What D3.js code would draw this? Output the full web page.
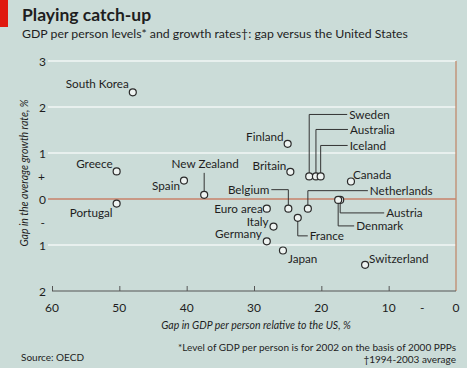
<!DOCTYPE html>
<html><head><meta charset="utf-8">
<script src="https://cdn.jsdelivr.net/npm/d3@7"></script>
<style>
html,body{margin:0;padding:0;background:#cbdcd8;}
svg{display:block;}
text{font-family:Lato,"Open Sans",sans-serif;fill:#1e1e1e;}
</style></head>
<body>
<svg id="c" width="467" height="368"></svg>
<script>
// ---- data ----
const countries = ["South Korea","Greece","Spain","New Zealand","Portugal","Finland","Britain",
  "Sweden","Australia","Iceland","Canada","Belgium","Netherlands","Euro area","Austria","Denmark",
  "France","Italy","Germany","Japan","Switzerland"];
const gdpGap    = [48.0,50.4,40.4,37.4,50.4,25.0,24.6,21.8,20.8,20.1,15.6,24.9,22.0,28.1,17.2,17.5,23.5,27.1,28.1,25.7,13.5];
const growthGap = [2.32,0.60,0.40,0.09,-0.10,1.20,0.59,0.49,0.49,0.49,0.38,-0.21,-0.21,-0.21,-0.02,-0.02,-0.41,-0.60,-0.92,-1.12,-1.43];
const yTickValues = [3,2,1,0.5,0,-0.5,-1,-2];
const yTickLabels = ["3","2","1","+","0","-","1","2"];
const xTickValues = [60,50,40,30,20,10,5,0];
const xTickLabels = ["60","50","40","30","20","10","-","0"];
const gridValues = [3,2,1,-1];

// ---- label layout (pixel offsets from point) ----
const layout = {
  "South Korea":{dx:-4,dy:-4,a:"end"},
  "Greece":{dx:-4,dy:-3,a:"end"},
  "Spain":{dx:-4,dy:9,a:"end"},
  "Portugal":{dx:-4,dy:13,a:"end"},
  "Finland":{dx:-4,dy:-3,a:"end"},
  "Britain":{dx:-4,dy:-2,a:"end"},
  "Canada":{dx:2,dy:-3,a:"start"},
  "Euro area":{dx:-4,dy:4,a:"end"},
  "Italy":{dx:-5,dy:-1,a:"end"},
  "Germany":{dx:-5,dy:-3,a:"end"},
  "Japan":{dx:5,dy:12,a:"start"},
  "Switzerland":{dx:4,dy:-2,a:"start"},
  "New Zealand":{leader:[-22,0],dx:1,dy:-27,a:"middle"},
  "Sweden":{leader:[-62,38]},
  "Australia":{leader:[-47,32]},
  "Iceland":{leader:[-31,27]},
  "Belgium":{leader:[-19,-17]},
  "Netherlands":{leader:[-18,60]},
  "Austria":{leader:[13,44]},
  "Denmark":{leader:[26,16]},
  "France":{leader:[18,10]}
};

const svg = d3.select("#c");
const x = d3.scaleLinear().domain([60,0]).range([52,456]);
const y = d3.scaleLinear().domain([3,-2]).range([61,291]);

// red tab
svg.append("rect").attr("x",0).attr("y",0).attr("width",8).attr("height",27).attr("fill","#e0190f");
svg.append("text").attr("x",22).attr("y",21).attr("font-size",17.5).attr("font-weight",700).text("Playing catch-up");
svg.append("text").attr("x",22).attr("y",38).attr("font-size",12.3).text("GDP per person levels* and growth rates\u2020: gap versus the United States");

// gridlines
svg.append("g").selectAll("line").data(gridValues).join("line")
  .attr("x1",48).attr("x2",456).attr("y1",d=>y(d)).attr("y2",d=>y(d))
  .attr("stroke","#f2f7f6").attr("stroke-width",1.4);
// zero line
svg.append("line").attr("x1",48).attr("x2",456).attr("y1",y(0)).attr("y2",y(0))
  .attr("stroke","#c9826a").attr("stroke-width",1.3);
// right border
svg.append("line").attr("x1",x(0)).attr("x2",x(0)).attr("y1",y(3)).attr("y2",y(-2))
  .attr("stroke","#c08a6e").attr("stroke-width",1.3);

// bottom axis
const xAxis = d3.axisBottom(x).tickValues(xTickValues.filter(v=>v>=10)).tickSize(-5).tickFormat("");
const gx = svg.append("g").attr("transform",`translate(0,${y(-2)})`).call(xAxis);
gx.select(".domain").attr("stroke","#555").attr("d",`M${x(60)},0H${x(0)}`);
gx.selectAll(".tick line").attr("stroke","#555");
svg.append("g").selectAll("text").data(xTickValues).join("text")
  .attr("x",d=>x(d)).attr("y",312).attr("text-anchor","middle").attr("font-size",12)
  .text((d,i)=>xTickLabels[i]);

// y labels
svg.append("g").selectAll("text").data(yTickValues).join("text")
  .attr("x",d=>(d===0.5||d===-0.5)?45:46).attr("y",d=>y(d)+4.5).attr("text-anchor","end").attr("font-size",12)
  .text((d,i)=>yTickLabels[i]);

// axis titles
svg.append("text").attr("transform","translate(28,173) rotate(-90)").attr("text-anchor","middle")
  .attr("font-size",10.5).attr("font-style","italic").text("Gap in the average growth rate, %");
svg.append("text").attr("x",256).attr("y",329).attr("text-anchor","middle")
  .attr("font-size",10.5).attr("font-style","italic").text("Gap in GDP per person relative to the US, %");

// footnotes
svg.append("text").attr("x",456).attr("y",351).attr("text-anchor","end").attr("font-size",10)
  .text("*Level of GDP per person is for 2002 on the basis of 2000 PPPs");
svg.append("text").attr("x",456).attr("y",363).attr("text-anchor","end").attr("font-size",10)
  .text("\u20201994-2003 average");
svg.append("text").attr("x",21).attr("y",361).attr("font-size",10).text("Source: OECD");

// data rows
const rows = countries.map((c,i)=>({c,gx:gdpGap[i],gy:growthGap[i],L:layout[c]}));
const r = 3.5;
const side = d => d.L.leader && d.L.leader[1] !== 0;

// leaders
const lg = svg.append("g").attr("fill","none").attr("stroke","#333").attr("stroke-width",1);
rows.filter(d=>d.L.leader).forEach(d=>{
  const px=x(d.gx), py=y(d.gy), [ly,lx]=d.L.leader;
  const sy = py + (ly<0?-r:r);
  lg.append("path").attr("d",`M${px},${sy}V${py+ly}`+(lx!==0?`H${px+lx}`:""));
});

// points
svg.append("g").selectAll("circle").data(rows).join("circle")
  .attr("cx",d=>x(d.gx)).attr("cy",d=>y(d.gy)).attr("r",r)
  .attr("fill","#eef3f1").attr("stroke","#2a2a2a").attr("stroke-width",1.2);

// labels
svg.append("g").selectAll("text").data(rows).join("text")
  .attr("font-size",11.7)
  .attr("text-anchor",d=>side(d)?(d.L.leader[1]<0?"end":"start"):d.L.a)
  .attr("x",d=>{const px=x(d.gx); if(side(d)){return px+d.L.leader[1]+(d.L.leader[1]<0?-2:2);} return px+d.L.dx;})
  .attr("y",d=>{const py=y(d.gy); if(side(d)){return py+d.L.leader[0]+4.3;} return py+d.L.dy;})
  .text(d=>d.c);
</script>
</body></html>
